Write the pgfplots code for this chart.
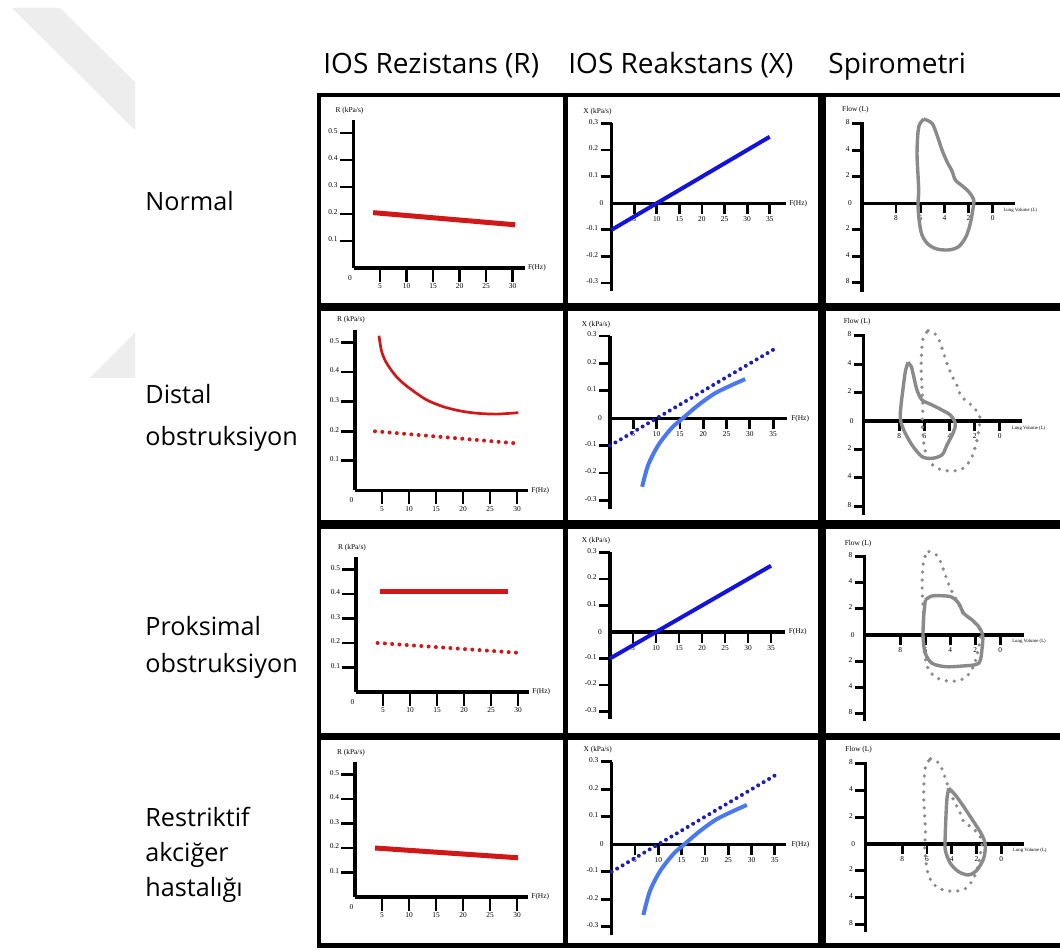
\documentclass[border=0pt]{standalone}
\usepackage{pgfplots}
\usepackage{pgfplotstable}
\pgfplotsset{compat=1.18}
\usepackage{fontspec}
\setmainfont{Open Sans}
\newfontfamily\tk{Liberation Serif}
\definecolor{rred}{HTML}{D01818}
\definecolor{bblue}{HTML}{1414D8}
\definecolor{dblue}{HTML}{1E1EB0}
\definecolor{lblue}{HTML}{4A78EE}
\definecolor{lgray}{HTML}{8A8A8A}
\definecolor{wm}{HTML}{EDEDED}
\def\tkf{\tk\fontsize{3.7}{4.2}\selectfont}
\def\tks{\tk\fontsize{2.4}{3}\selectfont}

% normal flow-volume loop (x = -volume, flow)
\pgfplotstableread{
x f
-5.71 6.36
-5.02 6.04
-4.61 5.15
-4.19 4.02
-3.78 3.14
-3.37 2.44
-3.09 1.76
-2.54 1.33
-1.99 0.88
-1.57 0.25
-1.65 -0.51
-1.85 -1.51
-2.21 -2.52
-2.81 -3.27
-3.64 -3.52
-4.61 -3.45
-5.35 -3.09
-5.85 -2.39
-6.07 -1.39
-6.18 -0.13
-6.12 0.88
-6.18 2.14
-6.26 3.65
-6.20 5.15
-6.07 5.91
-5.71 6.36
}\normloop

\pgfplotsset{
  panel/.style={
    anchor=origin, clip=false,
    axis x line=middle, axis y line=left,
    axis line style={line width=1.6pt,-},
    every inner x axis line/.append style={-},
    every outer y axis line/.append style={-},
    every tick/.style={black,line width=1.4pt},
    tick align=outside,
    major tick length=6pt,
    tick label style={font=\tkf, inner sep=1pt},
    yticklabel style={yshift=0.8pt},
  },
  rpanel/.style={panel, xmin=0, ymin=0, major tick length=6.8pt,
    xtick={5,10,15,20,25,30}, xticklabels={5,10,15,20,25,30},
    ytick={0.1,0.2,0.3,0.4,0.5}, yticklabels={0.1,0.2,0.3,0.4,0.5}},
  xpanel/.style={panel, xmin=0, ymin=-0.33, ymax=0.3, major tick length=5.5pt,
    xtick={5,10,15,20,25,30,35}, xticklabels={5,10,15,20,25,30,35},
    ytick={-0.3,-0.2,-0.1,0.1,0.2,0.3}, yticklabels={-0.3,-0.2,-0.1,0.1,0.2,0.3}},
  spanel/.style={panel, major tick length=5pt,
    xtick={-8,-6,-4,-2,0}, xticklabels={8,6,4,2,0},
    ytick={-6,-4,-2,2,4,6}, yticklabels={8,4,2,2,4,8}},
  rthick/.style={rred, line width=2.5pt, no marks},
  rdot/.style={rred, line width=2pt, no marks, line cap=round, dash pattern=on 0pt off 3.65pt},
  bdot/.style={dblue, line width=2pt, no marks, line cap=round, dash pattern=on 0pt off 3.15pt},
  bcurve/.style={lblue, line width=2pt, no marks, smooth},
  gloop/.style={lgray, line width=1.7pt, no marks, smooth},
  gdot/.style={lgray, line width=1.8pt, no marks, smooth, line cap=round, dash pattern=on 0pt off 4pt},
}

\begin{document}
\begin{tikzpicture}[x=0.5pt,y=0.5pt]
\path[use as bounding box, fill=white] (0,0) rectangle (1060,951);

% watermark
\fill[wm] (12,951-8) -- (60,951-8) -- (135,951-82) -- (135,951-130) -- cycle;
\fill[wm] (90,951-378) -- (135,951-333) -- (135,951-378) -- cycle;

% column headers
\begin{scope}[every node/.style={anchor=base west, inner sep=0pt, font=\fontsize{14}{16}\selectfont}]
\node at (323,951-73.5) {IOS Rezistans (R)};
\node at (568,951-73.5) {IOS Reakstans (X)};
\node at (828,951-73.5) {Spirometri};
\end{scope}

% row labels
\begin{scope}[every node/.style={anchor=base west, inner sep=0pt, font=\fontsize{12.6}{14}\selectfont}]
\node at (145,951-210.5) {Normal};
\node at (145,951-404) {Distal};
\node at (145,951-446) {obstruksiyon};
\node at (145,951-636) {Proksimal};
\node at (145,951-673) {obstruksiyon};
\node at (145,951-827) {Restriktif};
\node at (145,951-862) {akciğer};
\node at (145,951-897) {hastalığı};
\end{scope}

% ---------- Resistance column ----------
\begin{axis}[rpanel, at={({353.5*0.5pt},{(951-268)*0.5pt})}, x=2.65pt, y=135pt, xmax=32.4, ymax=0.547]
\addplot[rthick] coordinates {(3.7,0.205) (30.5,0.16)};
\node[font=\tkf] at ([xshift=-2pt]axis cs:0,0.583) {R (kPa/s)};
\node[font=\tkf] at (axis cs:34.6,0) {F(Hz)};
\node[font=\tkf] at ([shift={(-1.8pt,-5pt)}]axis cs:0,0) {0};
\end{axis}

\begin{axis}[rpanel, at={({355*0.5pt},{(951-490.5)*0.5pt})}, x=2.7pt, y=148pt, xmax=32, ymax=0.542]
\addplot[rred, line width=1.35pt, no marks, smooth] coordinates {
 (4.44,0.523) (4.94,0.469) (5.86,0.430) (7.41,0.390) (8.95,0.362) (10.80,0.336)
 (13.27,0.306) (16.36,0.283) (19.44,0.269) (22.53,0.261) (26.23,0.258) (30.25,0.263)};
\addplot[rdot] coordinates {(3.7,0.2) (30.1,0.159)};
\node[font=\tkf] at ([xshift=-2pt]axis cs:0,0.576) {R (kPa/s)};
\node[font=\tkf] at (axis cs:34.3,0) {F(Hz)};
\node[font=\tkf] at ([shift={(-1.8pt,-5pt)}]axis cs:0,0) {0};
\end{axis}

\begin{axis}[rpanel, at={({356*0.5pt},{(951-692)*0.5pt})}, x=2.7pt, y=122.5pt, xmax=32, ymax=0.55]
\addplot[rthick] coordinates {(4.4,0.41) (28.1,0.41)};
\addplot[rdot] coordinates {(4,0.2) (30,0.16)};
\node[font=\tkf] at ([xshift=-2pt]axis cs:0,0.59) {R (kPa/s)};
\node[font=\tkf] at (axis cs:34.3,0) {F(Hz)};
\node[font=\tkf] at ([shift={(-1.8pt,-5pt)}]axis cs:0,0) {0};
\end{axis}

\begin{axis}[rpanel, at={({355*0.5pt},{(951-897)*0.5pt})}, x=2.7pt, y=122.5pt, xmax=32, ymax=0.55]
\addplot[rthick] coordinates {(3.7,0.2) (30.2,0.16)};
\node[font=\tkf] at ([xshift=-2pt]axis cs:0,0.59) {R (kPa/s)};
\node[font=\tkf] at (axis cs:34.3,0) {F(Hz)};
\node[font=\tkf] at ([shift={(-1.8pt,-5pt)}]axis cs:0,0) {0};
\end{axis}

% ---------- Reactance column ----------
\begin{axis}[xpanel, at={({611.5*0.5pt},{(951-203.3)*0.5pt})}, x=2.26pt, y=133pt, xmax=38.5]
\addplot[bblue, line width=2pt, no marks] coordinates {(0,-0.1) (35,0.25)};
\node[font=\tkf] at ([xshift=-7pt]axis cs:0,0.345) {X (kPa/s)};
\node[font=\tkf] at (axis cs:41.3,0) {F(Hz)};
\node[font=\tkf] at ([xshift=-5pt]axis cs:0,0) {0};
\end{axis}

\begin{axis}[xpanel, at={({610*0.5pt},{(951-418.3)*0.5pt})}, x=2.33pt, y=137pt, xmax=37.9]
\addplot[bdot] coordinates {(0,-0.1) (35.4,0.254)};
\addplot[bcurve] coordinates {(6.9,-0.25) (8.2,-0.17) (10.4,-0.097) (13.2,-0.036)
 (15.4,-0.003) (19,0.049) (22.5,0.091) (26.1,0.121) (29,0.143)};
\node[font=\tkf] at ([xshift=-7pt]axis cs:0,0.343) {X (kPa/s)};
\node[font=\tkf] at (axis cs:40.8,0) {F(Hz)};
\node[font=\tkf] at ([xshift=-5pt]axis cs:0,0) {0};
\end{axis}

\begin{axis}[xpanel, at={({610*0.5pt},{(951-632)*0.5pt})}, x=2.3pt, y=132.5pt, xmax=38]
\addplot[bblue, line width=2pt, no marks] coordinates {(0,-0.1) (35,0.25)};
\node[font=\tkf] at ([xshift=-7pt]axis cs:0,0.345) {X (kPa/s)};
\node[font=\tkf] at (axis cs:40.8,0) {F(Hz)};
\node[font=\tkf] at ([xshift=-5pt]axis cs:0,0) {0};
\end{axis}

\begin{axis}[xpanel, at={({611.7*0.5pt},{(951-844.3)*0.5pt})}, x=2.33pt, y=137.5pt, xmax=37.5]
\addplot[bdot] coordinates {(0,-0.1) (35.4,0.254)};
\addplot[bcurve] coordinates {(6.8,-0.257) (8.2,-0.17) (10.4,-0.097) (13.2,-0.036)
 (15.4,-0.003) (19,0.049) (22.5,0.091) (26.1,0.121) (29,0.143)};
\node[font=\tkf] at ([xshift=-7pt]axis cs:0,0.343) {X (kPa/s)};
\node[font=\tkf] at (axis cs:40.5,0) {F(Hz)};
\node[font=\tkf] at ([xshift=-5pt]axis cs:0,0) {0};
\end{axis}

% ---------- Spirometry column ----------
\begin{axis}[spanel, at={({992.7*0.5pt},{(951-203.3)*0.5pt})}, x=6.045pt, y=6.625pt,
  xmin=-10.81, xmax=1.82, ymin=-6.67, ymax=6.16]
\addplot[gloop] table {\normloop};
\node[font=\tkf] at ([xshift=-3.3pt]axis cs:-10.81,7.04) {Flow (L)};
\node[font=\tks] at (axis cs:2.28,-0.5) {Lung Volume (L)};
\node[font=\tkf] at ([xshift=-6pt]axis cs:-10.81,0) {0};
\end{axis}

\begin{axis}[spanel, at={({999.7*0.5pt},{(951-421)*0.5pt})}, x=6.275pt, y=7.1pt,
  xmin=-10.84, xmax=1.78, ymin=-6.6, ymax=6.1]
\addplot[gdot] table {\normloop};
\addplot[gloop] coordinates {
 (-7.31,4.13) (-7.04,3.82) (-6.85,3.12) (-6.59,2.18) (-6.19,1.48) (-5.39,1.13)
 (-4.60,0.77) (-3.94,0.42) (-3.54,-0.16) (-3.67,-0.75) (-4.20,-1.69) (-4.60,-2.39)
 (-5.39,-2.63) (-6.19,-2.51) (-6.99,-1.69) (-7.65,-0.63) (-7.92,0.19) (-7.86,1.13)
 (-7.70,2.30) (-7.52,3.47) (-7.31,4.13)};
\node[font=\tkf] at ([xshift=-3.3pt]axis cs:-10.84,7.0) {Flow (L)};
\node[font=\tks] at (axis cs:2.3,-0.5) {Lung Volume (L)};
\node[font=\tkf] at ([xshift=-6pt]axis cs:-10.84,0) {0};
\end{axis}

\begin{axis}[spanel, at={({1000.3*0.5pt},{(951-635)*0.5pt})}, x=6.25pt, y=6.55pt,
  xmin=-10.85, xmax=1.87, ymin=-6.6, ymax=6.1]
\addplot[gdot] table {\normloop};
\addplot[gloop] coordinates {
 (-6.0,2.67) (-5.46,2.98) (-4.40,2.98) (-3.86,2.88) (-3.33,2.42) (-2.93,1.66)
 (-2.26,1.15) (-1.73,0.63) (-1.41,0) (-1.46,-1.02) (-1.73,-2.16) (-3.06,-2.37)
 (-4.40,-2.42) (-5.46,-2.16) (-6.0,-1.40) (-6.18,-0.13) (-6.13,1.40) (-6.0,2.67)};
\node[font=\tkf] at ([xshift=-3.3pt]axis cs:-10.85,7.0) {Flow (L)};
\node[font=\tks] at (axis cs:2.3,-0.5) {Lung Volume (L)};
\node[font=\tkf] at ([xshift=-6pt]axis cs:-10.85,0) {0};
\end{axis}

\begin{axis}[spanel, at={({1001.3*0.5pt},{(951-844)*0.5pt})}, x=6.2pt, y=6.7pt,
  xmin=-10.97, xmax=1.8, ymin=-6.54, ymax=6.14]
\addplot[gdot] table {\normloop};
\addplot[gloop] coordinates {
 (-4.24,4.16) (-3.71,3.66) (-3.03,2.78) (-2.23,1.66) (-1.56,0.67) (-1.29,-0.07)
 (-1.42,-1.07) (-1.96,-1.94) (-2.63,-2.31) (-3.44,-2.07) (-4.11,-1.44) (-4.52,-0.45)
 (-4.52,0.67) (-4.46,2.16) (-4.38,3.41) (-4.24,4.16)};
\node[font=\tkf] at ([xshift=-3.3pt]axis cs:-10.97,7.0) {Flow (L)};
\node[font=\tks] at (axis cs:2.3,-0.5) {Lung Volume (L)};
\node[font=\tkf] at ([xshift=-6pt]axis cs:-10.97,0) {0};
\end{axis}

% panel frames
\draw[line width=2pt] (316.5,951-95) -- (1060,951-95);
\draw[line width=2pt] (318.5,951-93) -- (318.5,951-948.5);
\draw[line width=2.5pt] (565.5,951-93) -- (565.5,951-948.5);
\draw[line width=4pt] (821.5,951-93) -- (821.5,951-948.5);
\draw[line width=4pt] (316.5,951-307.5) -- (1060,951-307.5);
\draw[line width=4.5pt] (316.5,951-525) -- (1060,951-525);
\draw[line width=3.5pt] (316.5,951-736.5) -- (1060,951-736.5);
\draw[line width=2.5pt] (316.5,951-946) -- (1060,951-946);
\end{tikzpicture}
\end{document}
